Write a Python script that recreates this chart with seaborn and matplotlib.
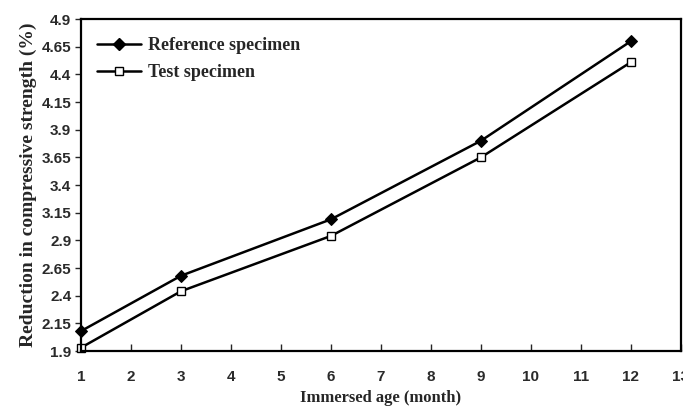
import matplotlib
matplotlib.use("Agg")
import matplotlib.pyplot as plt
import seaborn as sns
import pandas as pd
from matplotlib.lines import Line2D

months = [1, 3, 6, 9, 12]
reference = [2.08, 2.58, 3.09, 3.80, 4.70]
test = [1.93, 2.44, 2.94, 3.65, 4.51]
yticks = [1.9, 2.15, 2.4, 2.65, 2.9, 3.15, 3.4, 3.65, 3.9, 4.15, 4.4, 4.65, 4.9]
xticks = list(range(1, 14))

df = pd.DataFrame({
    "month": months * 2,
    "value": reference + test,
    "series": ["Reference specimen"] * 5 + ["Test specimen"] * 5,
})

sns.set_style("white")
fig = plt.figure(figsize=(6.83, 4.09), dpi=100)
ax = fig.add_axes([0.1186, 0.1418, 0.8784, 0.8117])

sns.lineplot(data=df, x="month", y="value", hue="series", style="series",
             palette={"Reference specimen": "black", "Test specimen": "black"},
             markers={"Reference specimen": "D", "Test specimen": "s"},
             dashes=False, linewidth=1.8, markersize=6, ax=ax, legend=False)

lines = ax.get_lines()
lines[0].set_markerfacecolor("black")
lines[0].set_markeredgecolor("black")
lines[0].set_markersize(6)
lines[1].set_markerfacecolor("white")
lines[1].set_markeredgecolor("black")
lines[1].set_markeredgewidth(1.0)
lines[1].set_markersize(5.5)
for ln in lines:
    ln.set_clip_on(False)

handles = [
    Line2D([], [], color="black", lw=1.8, marker="D", markersize=6,
           markerfacecolor="black", markeredgecolor="black"),
    Line2D([], [], color="black", lw=1.8, marker="s", markersize=5.5,
           markerfacecolor="white", markeredgecolor="black"),
]
ax.legend(handles, ["Reference specimen", "Test specimen"], loc="upper left",
          frameon=False, handlelength=2.4, handletextpad=0.4,
          bbox_to_anchor=(0.0, 0.995), labelspacing=0.55,
          prop={"family": "Liberation Serif", "weight": "bold", "size": 13})

ax.set_xlim(1, 13)
ax.set_ylim(1.9, 4.9)
ax.set_xticks(xticks)
ax.set_yticks(yticks)
ax.set_xticklabels([str(v) for v in xticks], family="Liberation Sans", weight="bold", fontsize=11, color="#2a2a2a")
ax.set_yticklabels([f"{v:g}" for v in yticks], family="Liberation Sans", weight="bold", fontsize=11, color="#2a2a2a")
ax.tick_params(axis="x", direction="in", length=5, width=1, pad=14, bottom=True)
ax.tick_params(axis="y", direction="out", length=4, width=1, pad=3, left=True)

for s in ax.spines.values():
    s.set_color("black")
    s.set_linewidth(1.6)
    s.set_visible(True)

ax.set_xlabel("Immersed age (month)", family="Liberation Serif", weight="bold", fontsize=12, labelpad=4)
ax.set_ylabel("Reduction in compressive strength (%)", family="Liberation Serif", weight="bold", fontsize=14, labelpad=3)

fig.savefig("out.png", dpi=100)
